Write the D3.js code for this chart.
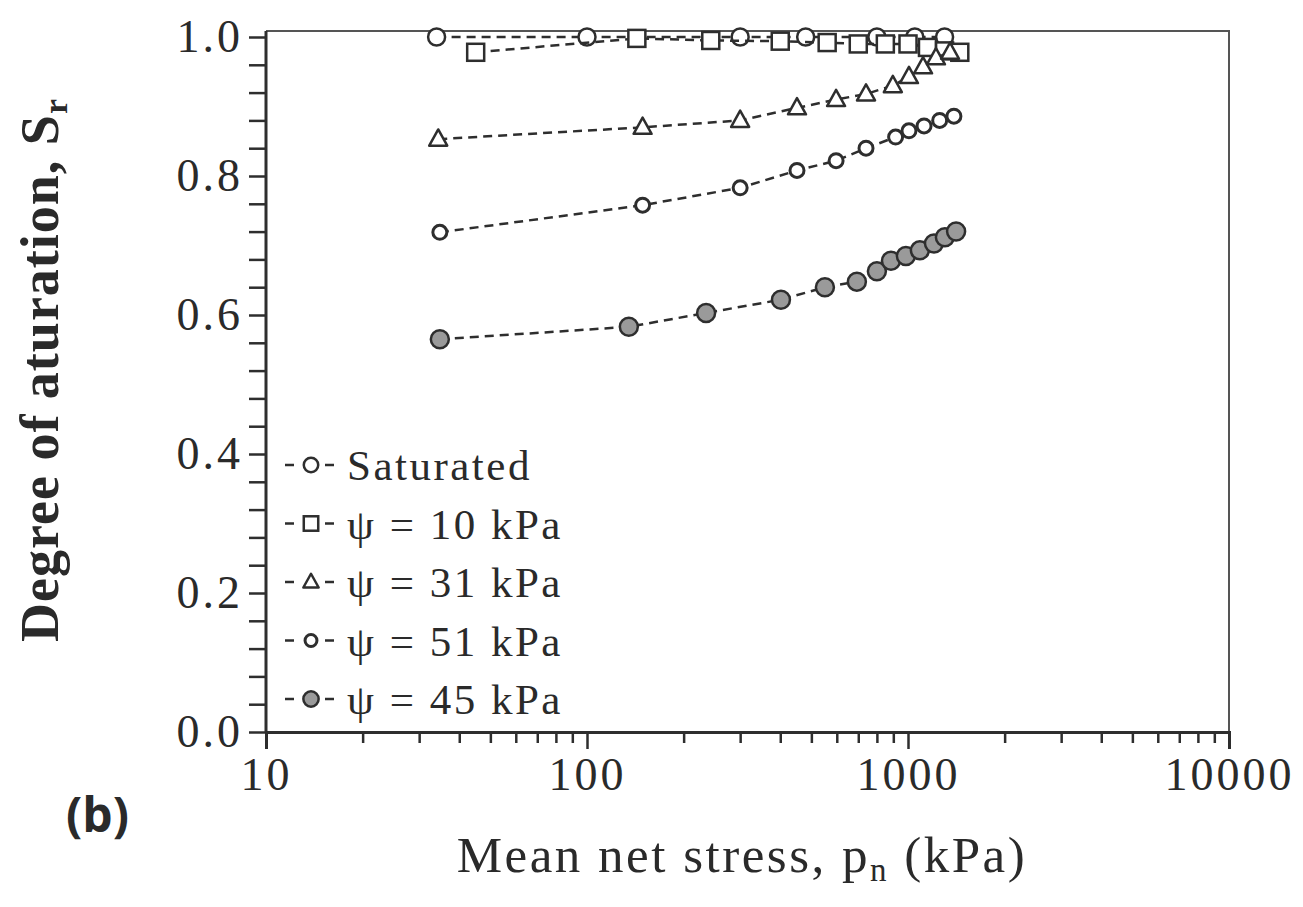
<!DOCTYPE html>
<html>
<head>
<meta charset="utf-8">
<script src="https://cdn.jsdelivr.net/npm/d3@7"></script>
<style>
  body { margin: 0; background: #fff; }
  svg { display: block; }
  text { fill: #2a2a2a; }
</style>
</head>
<body>
<svg id="chart" width="1303" height="907"></svg>
<script>
// Data (p in kPa, Sr)
const saturatedP = [34, 100, 300, 480, 800, 1050, 1300];
const saturatedS = [1.0, 1.0, 1.0, 1.0, 1.0, 1.0, 1.0];

const psi10P = [45, 143, 243, 400, 560, 700, 850, 1000, 1150, 1300, 1450];
const psi10S = [0.978, 0.998, 0.995, 0.994, 0.992, 0.990, 0.990, 0.990, 0.985, 0.980, 0.978];

const psi31P = [34.4, 149, 300, 451, 597, 740, 897, 1007, 1114, 1222, 1352];
const psi31S = [0.853, 0.870, 0.880, 0.898, 0.910, 0.918, 0.930, 0.943, 0.957, 0.970, 0.978];

const psi51P = [34.8, 149, 300, 451, 597, 740, 915, 1007, 1122, 1255, 1390];
const psi51S = [0.719, 0.758, 0.783, 0.808, 0.822, 0.840, 0.856, 0.865, 0.872, 0.880, 0.886];

const psi45P = [34.8, 135, 235, 402, 551, 693, 800, 885, 985, 1089, 1205, 1303, 1412];
const psi45S = [0.565, 0.583, 0.603, 0.622, 0.640, 0.648, 0.663, 0.678, 0.685, 0.693, 0.703, 0.712, 0.720];

const seriesNames = ["Saturated", "\u03c8 = 10 kPa", "\u03c8 = 31 kPa", "\u03c8 = 51 kPa", "\u03c8 = 45 kPa"];
const xTickLabels = [10, 100, 1000, 10000];
const yTickLabels = [0, 0.2, 0.4, 0.6, 0.8, 1.0];

const series = [
  { name: seriesNames[0], p: saturatedP, s: saturatedS, shape: "circle", r: 8.5, fill: "#fff", sw: 2.5 },
  { name: seriesNames[1], p: psi10P, s: psi10S, shape: "square", r: 8.5, fill: "#fff", sw: 2.5 },
  { name: seriesNames[2], p: psi31P, s: psi31S, shape: "triangle", r: 9, fill: "#fff", sw: 2.5 },
  { name: seriesNames[3], p: psi51P, s: psi51S, shape: "circle", r: 7, fill: "#fff", sw: 3 },
  { name: seriesNames[4], p: psi45P, s: psi45S, shape: "circle", r: 9, fill: "#9a9a9a", sw: 2.5 }
];

const svg = d3.select("#chart");
const ink = "#2e2e2e";
const serif = "'Liberation Serif', 'Times New Roman', serif";

const x = d3.scaleLog().domain([10, 10000]).range([266, 1229]);
const y = d3.scaleLinear().domain([0, 1]).range([732, 37]);
const topY = y(1.0085);

// frame (top and right)
svg.append("path")
  .attr("d", `M${x(10)},${topY}H${x(10000)}V${y(0)}`)
  .attr("fill", "none")
  .attr("stroke", "#555")
  .attr("stroke-width", 2);

// y axis
const yAxis = d3.axisLeft(y)
  .tickValues(d3.range(0, 1.0001, 0.04))
  .tickSize(17)
  .tickPadding(6)
  .tickFormat(d => {
    const isMajor = yTickLabels.some(v => Math.abs(v - d) < 1e-6);
    return isMajor ? d.toFixed(1) : "";
  });
const gy = svg.append("g").attr("transform", `translate(${x(10)},0)`).call(yAxis);
gy.select(".domain").attr("d", `M0,${topY}V${y(0)}`);

// x axis: minor ticks then major ticks with labels
const minorVals = [];
[10, 100, 1000].forEach(dec => d3.range(2, 10).forEach(k => minorVals.push(dec * k)));
const gxMinor = svg.append("g").attr("transform", `translate(0,${y(0)})`)
  .call(d3.axisBottom(x).tickValues(minorVals).tickSize(11).tickFormat(""));
gxMinor.select(".domain").remove();
const gx = svg.append("g").attr("transform", `translate(0,${y(0)})`)
  .call(d3.axisBottom(x).tickValues(xTickLabels).tickSize(17).tickPadding(8).tickFormat(d3.format("d")));

[gy, gx, gxMinor].forEach(g => {
  g.selectAll("line").attr("stroke", ink).attr("stroke-width", 2.5);
  g.selectAll(".domain").attr("stroke", ink).attr("stroke-width", 3);
  g.selectAll("text")
    .attr("font-family", serif)
    .attr("font-size", 46)
    .attr("letter-spacing", 3)
    .attr("fill", "#2a2a2a");
});

// marker drawing
function drawMarker(g, shape, cx, cy, r, fill, sw) {
  if (shape === "circle") {
    g.append("circle").attr("cx", cx).attr("cy", cy).attr("r", r)
      .attr("fill", fill).attr("stroke", ink).attr("stroke-width", sw);
  } else if (shape === "square") {
    g.append("rect").attr("x", cx - r).attr("y", cy - r)
      .attr("width", 2 * r).attr("height", 2 * r)
      .attr("fill", fill).attr("stroke", ink).attr("stroke-width", sw);
  } else {
    const h = r * 1.8;
    g.append("path")
      .attr("d", `M${cx},${cy - h * 0.6}L${cx + r},${cy + h * 0.4}L${cx - r},${cy + h * 0.4}Z`)
      .attr("fill", fill).attr("stroke", ink).attr("stroke-width", sw)
      .attr("stroke-linejoin", "round");
  }
}

const line = d3.line().x(d => x(d[0])).y(d => y(d[1]));

series.forEach(sr => {
  const pts = sr.p.map((p, i) => [p, sr.s[i]]);
  const g = svg.append("g");
  g.append("path").datum(pts)
    .attr("d", line)
    .attr("fill", "none")
    .attr("stroke", ink)
    .attr("stroke-width", 2.5)
    .attr("stroke-dasharray", "9,6");
  pts.forEach(d => drawMarker(g, sr.shape, x(d[0]), y(d[1]), sr.r, sr.fill, sr.sw));
});

// legend
const legendY = d3.scalePoint().domain(seriesNames).range([465, 699]);
series.forEach(sr => {
  const ly = legendY(sr.name);
  const g = svg.append("g");
  g.append("line").attr("x1", 285).attr("x2", 334).attr("y1", ly).attr("y2", ly)
    .attr("stroke", ink).attr("stroke-width", 2.5).attr("stroke-dasharray", "9,31");
  drawMarker(g, sr.shape, 311, ly, sr.r * 0.85, sr.fill, sr.sw);
  g.append("text").attr("x", 347).attr("y", ly + 15)
    .attr("font-family", serif)
    .attr("font-size", 43)
    .attr("letter-spacing", 2.5)
    .text(sr.name);
});

// axis titles
const xt = svg.append("text")
  .attr("x", 742).attr("y", 872)
  .attr("text-anchor", "middle")
  .attr("font-family", serif)
  .attr("font-size", 51)
  .attr("letter-spacing", 2.5);
xt.append("tspan").text("Mean net stress, p");
xt.append("tspan").attr("font-size", 33).attr("dy", 9).text("n");
xt.append("tspan").attr("dy", -9).text(" (kPa)");

const yt = svg.append("text")
  .attr("transform", "translate(58,370) rotate(-90)")
  .attr("text-anchor", "middle")
  .attr("font-family", serif)
  .attr("font-weight", "bold")
  .attr("font-size", 54)
  .attr("letter-spacing", 1);
yt.append("tspan").text("Degree of aturation, S");
yt.append("tspan").attr("font-size", 34).attr("dy", 9).text("r");

svg.append("text")
  .attr("x", 66).attr("y", 832)
  .attr("font-family", "'Open Sans', 'Liberation Sans', sans-serif")
  .attr("font-weight", "bold")
  .attr("font-size", 48)
  .text("(b)");
</script>
</body>
</html>
